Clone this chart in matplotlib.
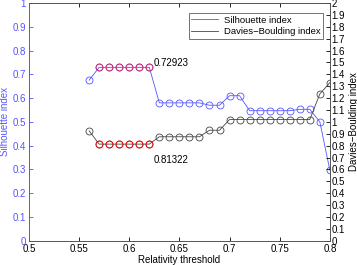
import matplotlib
matplotlib.use('Agg')
import matplotlib.pyplot as plt

plt.rcParams['font.family'] = ['Liberation Sans', 'DejaVu Sans']

# relativity threshold values
thresholds = [0.56, 0.57, 0.58, 0.59, 0.60, 0.61, 0.62, 0.63, 0.64, 0.65, 0.66, 0.67, 0.68,
              0.69, 0.70, 0.71, 0.72, 0.73, 0.74, 0.75, 0.76, 0.77, 0.78, 0.79, 0.80]
silhouette = [0.675, 0.72923, 0.72923, 0.72923, 0.72923, 0.72923, 0.72923, 0.58, 0.58, 0.58,
              0.58, 0.58, 0.57, 0.57, 0.61, 0.61, 0.547, 0.547, 0.547, 0.547, 0.547, 0.553,
              0.553, 0.50, 0.297]
davies = [0.925, 0.81322, 0.81322, 0.81322, 0.81322, 0.81322, 0.81322, 0.875, 0.875, 0.875,
          0.875, 0.875, 0.93, 0.93, 1.02, 1.02, 1.02, 1.02, 1.02, 1.02, 1.02, 1.02, 1.02,
          1.235, 1.33]

# indices of the best segment (highlighted in red)
best = list(range(1, 7))

blue = '#5555ff'
grey = '#444444'

fig = plt.figure(figsize=(3.57, 2.65), dpi=100)
ax = fig.add_axes([0.081, 0.091, 0.843, 0.898])
ax2 = ax.twinx()

ax.plot(thresholds, silhouette, color=blue, lw=0.6, marker='o', ms=5, mfc='none', mec=blue, mew=0.6,
        label='Silhouette index')
ax.plot([thresholds[i] for i in best], [silhouette[i] for i in best], ls='none', marker='o', ms=5,
        mfc='none', mec='#e8204a', mew=0.6)

ax2.plot(thresholds, davies, color=grey, lw=0.6, marker='o', ms=5, mfc='none', mec=grey, mew=0.6,
         label='Davies\u2212Boulding index')
ax2.plot([thresholds[i] for i in best], [davies[i] for i in best], ls='none', marker='o', ms=5,
         mfc='none', mec='red', mew=0.6)

ax.text(0.6245, 0.735, '%.5f' % silhouette[1], fontsize=7)
ax2.text(0.6245, 0.655, '%.5f' % davies[1], fontsize=7)

ax.set_xlim(0.5, 0.8)
ax.set_ylim(0, 1)
ax2.set_ylim(0, 2)
ax.set_xticks([0.5, 0.55, 0.6, 0.65, 0.7, 0.75, 0.8])
ax.set_xticklabels(['0.5', '0.55', '0.6', '0.65', '0.7', '0.75', '0.8'])
ax.set_yticks([i / 10 for i in range(11)])
ax.set_yticklabels(['0'] + ['%.1f' % (i / 10) for i in range(1, 10)] + ['1'])
ax2.set_yticks([i / 10 for i in range(21)])
ax2.set_yticklabels(['0'] + ['%.1f' % (i / 10) for i in range(1, 10)] + ['1']
                    + ['%.1f' % (i / 10) for i in range(11, 20)] + ['2'])

ax.tick_params(axis='x', direction='in', top=True, labelsize=7, length=3, width=0.6, pad=2)
ax.tick_params(axis='y', direction='in', colors=blue, labelsize=7, length=3, width=0.6, pad=2)
ax2.tick_params(axis='y', direction='in', labelsize=7, length=3, width=0.6, pad=1)

for a in (ax, ax2):
    for s in a.spines.values():
        s.set_linewidth(0.6)
        s.set_color('#555555')
ax2.spines['left'].set_color(blue)

ax.set_xlabel('Relativity threshold', fontsize=7, labelpad=1)
ax.set_ylabel('Silhouette index', fontsize=7, color=blue, labelpad=2)
ax2.set_ylabel('Davies\u2212Boulding index', fontsize=7)
ax2.yaxis.set_label_coords(1.062, 0.5)

h1, l1 = ax.get_legend_handles_labels()
h2, l2 = ax2.get_legend_handles_labels()
leg = ax2.legend(h1 + h2, l1 + l2, loc='upper right', fontsize=6.8, frameon=True, fancybox=False,
                 borderpad=0.3, handlelength=2.8, handletextpad=0.6, labelspacing=0.25,
                 bbox_to_anchor=(0.993, 0.978))
leg.get_frame().set_edgecolor('#333333')
leg.get_frame().set_linewidth(0.6)
for line in leg.get_lines():
    line.set_marker('')

fig.savefig('out.png', dpi=100)
